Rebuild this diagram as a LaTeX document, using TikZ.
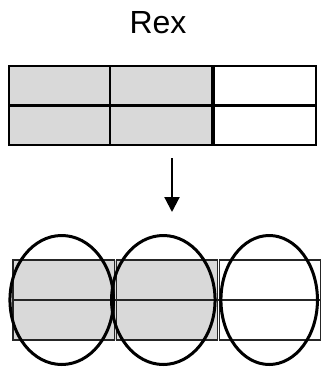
\documentclass[tikz,border=0pt]{standalone}
\usepackage{fontspec}
\setmainfont{Liberation Sans}
\usetikzlibrary{arrows.meta,shapes.geometric}
\definecolor{cellgrey}{HTML}{D9D9D9}
\begin{document}
\begin{tikzpicture}[x=1pt,y=-1pt,
  topline/.style={draw=black, line width=2.4pt},
  botline/.style={draw=black!85, line width=1.4pt},
  ring/.style={ellipse, draw=black, line width=3pt, inner sep=0pt, minimum height=129pt},
  flow/.style={draw=black, line width=2.2pt, -{Triangle[width=15pt,length=15pt]}},
  title/.style={font=\fontsize{32}{38}\selectfont, anchor=base, inner sep=0pt}]
\useasboundingbox (0,0) rectangle (322,368);
% title
\node[title] (rex) at (158,33) {Rex};
% top grid
\fill[cellgrey] (9,66) rectangle (213,145);
\draw[topline] (9,66) rectangle (316,145);
\draw[topline] (9,105.5) -- (316,105.5);
\draw[topline] (110,66) -- (110,145);
\draw[topline, line width=3.2pt] (213,66) -- (213,145);
% arrow
\coordinate (arrowstart) at (172,158);
\coordinate (arrowend) at (172,212);
\draw[flow] (arrowstart) -- (arrowend);
% bottom grid
\fill[cellgrey] (13,260) rectangle (218.5,340);
\draw[botline] (13,260) rectangle (114.3,340);
\draw[botline] (116.3,260) rectangle (217.3,340);
\draw[botline] (219.5,260) rectangle (320.5,340);
\draw[botline] (13,300) -- (320.5,300);
% ellipses
\node[ring, minimum width=103.5pt] (e1) at (61.7,300) {};
\node[ring, minimum width=103.5pt] (e2) at (163.3,300) {};
\node[ring, minimum width=96.5pt] (e3) at (269.2,300) {};
\end{tikzpicture}
\end{document}
